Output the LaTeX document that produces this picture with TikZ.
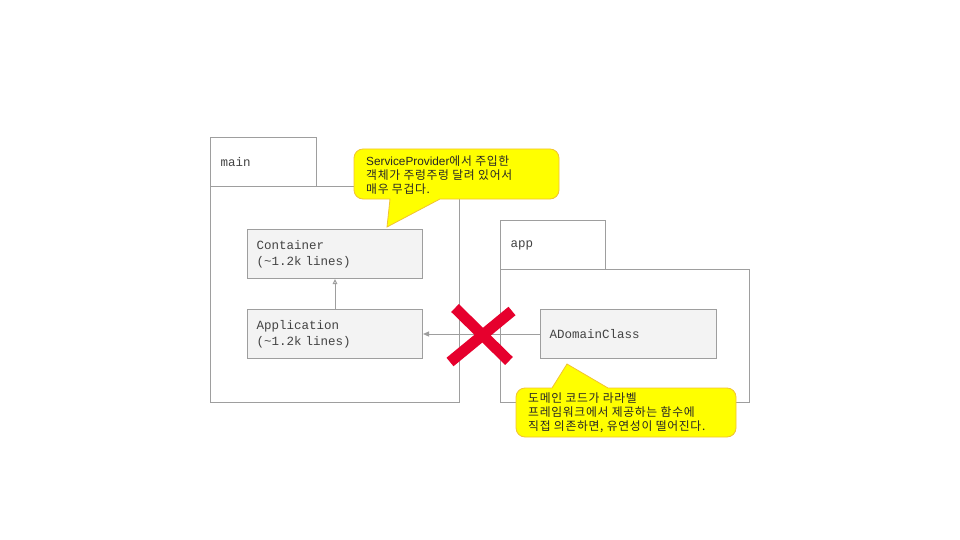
\documentclass[tikz,border=0pt]{standalone}
\usepackage{fontspec}
\setmonofont{Liberation Mono}
\newfontfamily\krfont[LetterSpace=6]{Noto Sans CJK KR}
\newfontfamily\lsans{Liberation Sans}
\usetikzlibrary{arrows.meta}
\definecolor{linegray}{HTML}{9E9E9E}
\definecolor{boxfill}{HTML}{F3F3F3}
\definecolor{txtgray}{HTML}{434343}
\definecolor{callfill}{HTML}{FFFF00}
\definecolor{callborder}{HTML}{F1C232}
\definecolor{xred}{HTML}{E6002D}
\begin{document}
\begin{tikzpicture}[x=1pt,y=-1pt,
  pkg/.style={draw=linegray, line width=1pt, fill=white, anchor=north west, inner sep=0pt},
  pkgtab/.style={draw=linegray, line width=1pt, fill=white, anchor=north west,
    inner xsep=10pt, inner ysep=0pt, align=left, text=txtgray,
    font=\ttfamily\fontsize{12.5}{16}\selectfont},
  cls/.style={draw=linegray, line width=1pt, fill=boxfill, anchor=north west,
    inner xsep=9pt, inner ysep=0pt, align=left, text=txtgray,
    font=\ttfamily\fontsize{12.5}{16}\selectfont},
  conn/.style={draw=linegray, line width=1pt},
  callout/.style={draw=callborder, line width=0.8pt, fill=callfill},
  calltext/.style={anchor=west, align=left, inner sep=0pt, text=black!85,
    font=\krfont\fontsize{11.8}{14.2}\selectfont},
  xstroke/.style={draw=xred, line width=11pt, line cap=butt}
]
\useasboundingbox[fill=white] (0,0) rectangle (960,540);

% main package
\node[pkg, minimum width=249pt, minimum height=216pt] (mainbody) at (210,186) {};
\node[pkgtab, minimum width=106pt, minimum height=49pt, text width=86pt] (maintab) at (210,137) {main};

% app package
\node[pkg, minimum width=249pt, minimum height=133pt] (appbody) at (500,269) {};
\node[pkgtab, minimum width=105pt, minimum height=49pt, text width=85pt] (apptab) at (500,220) {app};

% classes
\node[cls, minimum width=175pt, minimum height=49pt, text width=157pt] (container) at (247,229) {Container\\(\textasciitilde1.2k lines)};
\node[cls, minimum width=175pt, minimum height=49pt, text width=157pt] (application) at (247,309) {Application\\(\textasciitilde1.2k lines)};
\node[cls, minimum width=176pt, minimum height=49pt, text width=158pt] (adomain) at (540,309) {ADomainClass};

% connectors
\draw[conn, -{Triangle[open, length=5pt, width=4.5pt]}] (application.north) -- (container.south);
\draw[conn, -{Triangle[length=6pt, width=5pt]}] (adomain.west) -- (application.east);

% red X
\draw[xstroke] (455,308) -- (509,361);
\draw[xstroke] (512,311) -- (450,362);

% callout 1
\draw[callout] (387,227) -- (440,199) {[rounded corners=9pt] -- (559,199) -- (559,149) -- (354,149) -- (354,199)} -- (390,199) -- cycle;
\node[calltext] (call1) at (366,175) {{\lsans ServiceProvider}에서 주입한\\객체가 주렁주렁 달려 있어서\\매우 무겁다.};

% callout 2
\draw[callout] (567,364) -- (608,388) {[rounded corners=9pt] -- (736,388) -- (736,437) -- (516,437) -- (516,388)} -- (552,388) -- cycle;
\node[calltext] (call2) at (528,413) {도메인 코드가 라라벨\\프레임워크에서 제공하는 함수에\\직접 의존하면, 유연성이 떨어진다.};
\end{tikzpicture}
\end{document}
